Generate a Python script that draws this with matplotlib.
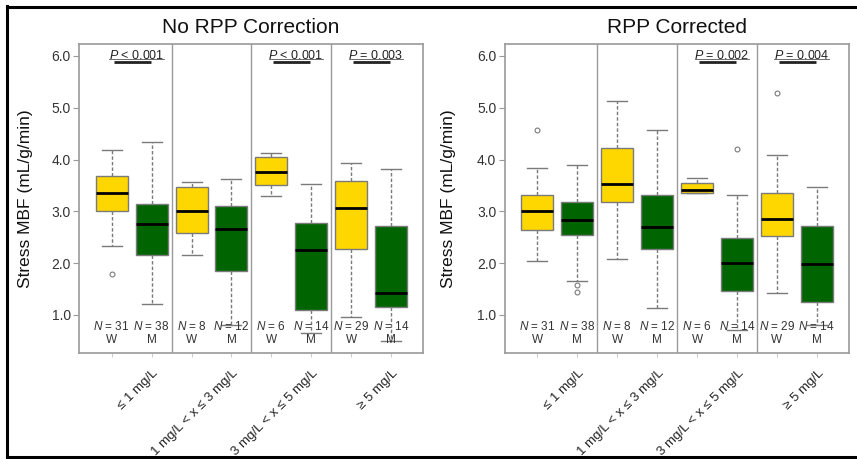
import matplotlib
matplotlib.use("Agg")
import matplotlib.pyplot as plt
from matplotlib.lines import Line2D

plt.rcParams['font.family'] = ['Liberation Sans', 'DejaVu Sans']
plt.rcParams['mathtext.fontset'] = 'custom'
plt.rcParams['mathtext.it'] = 'Liberation Sans:italic'
plt.rcParams['mathtext.rm'] = 'Liberation Sans'

# ---- data ----
categories = ["\u2264 1 mg/L", "1 mg/L < x \u2264 3 mg/L", "3 mg/L < x \u2264 5 mg/L", "\u2265 5 mg/L"]
sexes = ["W", "M"]
panel_titles = ["No RPP Correction", "RPP Corrected"]

# per box: [whislo, q1, median, q3, whishi], order W1, M1, W2, M2, W3, M3, W4, M4
no_rpp_stats = [
    [2.33, 3.00, 3.35, 3.68, 4.19],
    [1.21, 2.16, 2.76, 3.14, 4.33],
    [2.16, 2.59, 3.00, 3.47, 3.57],
    [0.80, 1.85, 2.66, 3.10, 3.62],
    [3.30, 3.51, 3.75, 4.04, 4.12],
    [0.65, 1.10, 2.25, 2.78, 3.53],
    [0.95, 2.27, 3.07, 3.59, 3.93],
    [0.50, 1.16, 1.42, 2.72, 3.81],
]
no_rpp_fliers = [[1.79], [], [], [], [], [], [], []]

rpp_stats = [
    [2.04, 2.64, 3.01, 3.32, 3.84],
    [1.66, 2.54, 2.83, 3.18, 3.89],
    [2.07, 3.18, 3.53, 4.22, 5.12],
    [1.13, 2.27, 2.70, 3.32, 4.57],
    [3.35, 3.36, 3.42, 3.55, 3.64],
    [0.70, 1.46, 2.01, 2.49, 3.32],
    [1.42, 2.53, 2.85, 3.35, 4.08],
    [0.80, 1.25, 1.98, 2.72, 3.47],
]
rpp_fliers = [[4.57], [1.57, 1.45], [], [], [], [4.20], [5.29], []]

n_counts = [31, 38, 8, 12, 6, 14, 29, 14]

no_rpp_p = ["P < 0.001", None, "P < 0.001", "P = 0.003"]
rpp_p = [None, None, "P = 0.002", "P = 0.004"]

YELLOW = "#FFD700"
GREEN = "#006400"
EDGE = "#7a7a7a"
FRAME = "#9a9a9a"

fig = plt.figure(figsize=(8.57, 4.59), dpi=100)

ax_w = 344 / 857
ax_b = (459 - 352.7) / 459
ax_h = (352.7 - 44) / 459
axes = [fig.add_axes([79 / 857, ax_b, ax_w, ax_h]),
        fig.add_axes([504.7 / 857, ax_b, ax_w, ax_h])]

panels = [(no_rpp_stats, no_rpp_fliers, no_rpp_p), (rpp_stats, rpp_fliers, rpp_p)]
ylabel_x = [-0.134, -0.1415]

for k, (ax, (stats, fliers, pvals)) in enumerate(zip(axes, panels)):
    positions = list(range(1, 9))
    bstats = []
    for s, f in zip(stats, fliers):
        bstats.append(dict(whislo=s[0], q1=s[1], med=s[2], q3=s[3], whishi=s[4], fliers=f))
    res = ax.bxp(bstats, positions=positions, widths=0.8, capwidths=0.5,
                 patch_artist=True, showfliers=True,
                 boxprops=dict(edgecolor=EDGE, linewidth=1.0),
                 medianprops=dict(color="black", linewidth=2.0),
                 whiskerprops=dict(color=EDGE, linewidth=1.0, linestyle=(0, (2.5, 1.5))),
                 capprops=dict(color=EDGE, linewidth=1.0),
                 flierprops=dict(marker="o", markersize=3.5, markerfacecolor="none",
                                 markeredgecolor=EDGE, markeredgewidth=0.8))
    for i, patch in enumerate(res["boxes"]):
        patch.set_facecolor(YELLOW if i % 2 == 0 else GREEN)

    ax.set_xlim(0.18, 8.8)
    ax.set_ylim(0.27, 6.23)
    ax.set_yticks([1, 2, 3, 4, 5, 6])
    ax.set_yticklabels([f"{v:.1f}" for v in [1, 2, 3, 4, 5, 6]], fontsize=10, color="#333333")
    ax.set_xticks(positions)
    ax.set_xticklabels([])
    ax.tick_params(axis="y", length=4, width=0.8, color=FRAME, pad=2)
    ax.tick_params(axis="x", length=3, width=0.8, color="#cccccc")
    for sp in ax.spines.values():
        sp.set_color(FRAME)
        sp.set_linewidth(1.2)

    for xd in [2.5, 4.5, 6.5]:
        ax.axvline(xd, color=FRAME, linewidth=1.0)

    ax.set_ylabel("Stress MBF (mL/g/min)", fontsize=12.5, color="#111111")
    ax.yaxis.set_label_coords(ylabel_x[k], 0.5)
    ax.text(0.5, 1.052, panel_titles[k], transform=ax.transAxes, ha="center",
            va="center", fontsize=15, color="#111111")

    for i, p in enumerate(positions):
        ax.text(p, 0.77, r"$\mathit{N}$ = " + str(n_counts[i]), ha="center", va="center",
                fontsize=8.5, color="#333333")
        ax.text(p, 0.52, sexes[i % 2], ha="center", va="center", fontsize=8.5, color="#333333")

    for g, label in enumerate(categories):
        xw = 2 * g + 1
        ax.text(xw + 1.12, -0.062, label, transform=ax.get_xaxis_transform(),
                rotation=45, rotation_mode="anchor", ha="right", va="center",
                fontsize=9.5, color="#222222")
        if pvals[g]:
            txt = pvals[g]
            ax.text(xw + 0.62, 6.0, "$\\mathit{P}$" + txt[1:], ha="center", va="center",
                    fontsize=9, color="#222222")
            ax.plot([xw - 0.06, xw + 1.3], [5.935, 5.935], color="#555555", linewidth=0.6)
            ax.plot([xw + 0.05, xw + 0.98], [5.88, 5.88], color="#222222", linewidth=2.0,
                    solid_capstyle="butt")

# outer border
fig.add_artist(Line2D([7.5 / 857, 7.5 / 857], [2.5 / 459, 453 / 459], transform=fig.transFigure,
                      color="black", linewidth=2.2))
fig.add_artist(Line2D([6.5 / 857, 1.0], [452.5 / 459, 452.5 / 459], transform=fig.transFigure,
                      color="black", linewidth=2.2))
fig.add_artist(Line2D([6.5 / 857, 1.0], [2.5 / 459, 2.5 / 459], transform=fig.transFigure,
                      color="black", linewidth=2.2))

fig.savefig("out.png", dpi=100)
